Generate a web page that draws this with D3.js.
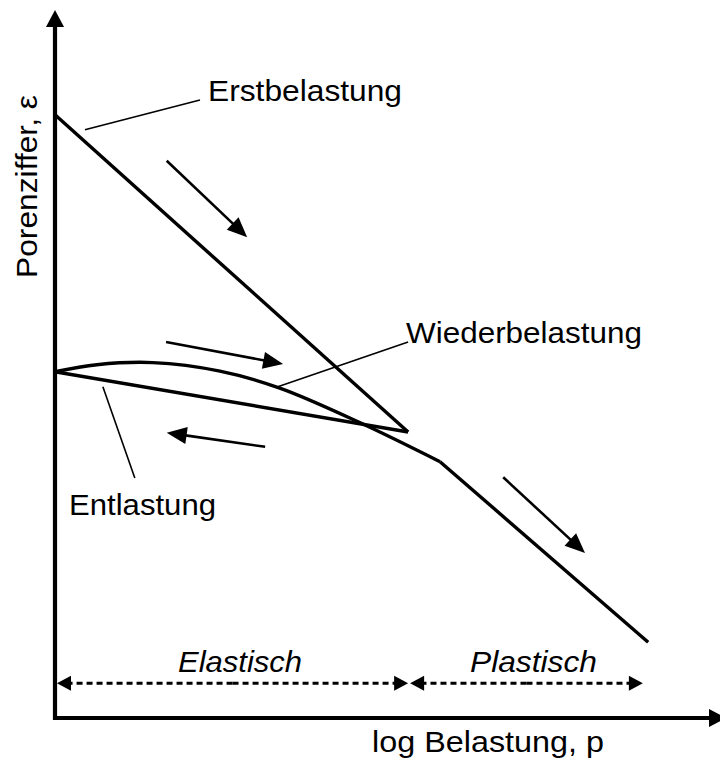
<!DOCTYPE html>
<html>
<head>
  <meta charset="utf-8">
  <script src="https://d3js.org/d3.v7.min.js"></script>
  <style>
    body { margin: 0; background: #fff; }
    text { font-family: "Liberation Sans", Arial, sans-serif; fill: #000; }
  </style>
</head>
<body>
  <svg width="720" height="765"></svg>
  <script>
    // log p (0..10) against void ratio e (0..10)
    var erstLogP = [0, 5.31];
    var erstE = [8.52, 4.04];

    var entlLogP = [5.31, 0];
    var entlE = [4.04, 4.89];

    var wiederLogP = [0, 0.63, 1.47, 2.48, 3.38, 4.59, 5.79];
    var wiederE = [4.89, 4.99, 5.02, 4.90, 4.66, 4.17, 3.62];

    var plastLogP = [5.79, 8.92];
    var plastE = [3.62, 1.07];

    // direction arrows [x1, y1, x2, y2]
    var dirArrows = [
      [1.68, 7.87, 2.89, 6.79],
      [1.67, 5.31, 3.43, 5.00],
      [3.16, 3.83, 1.68, 4.03],
      [6.74, 3.40, 7.97, 2.33]
    ];

    // leader lines for the labels
    var leaders = [
      [0.45, 8.31, 2.18, 8.73],
      [3.35, 4.68, 5.31, 5.31],
      [0.72, 4.68, 1.20, 3.39]
    ];

    // ranges along the bottom
    var rangeNames = ["Elastisch", "Plastisch"];
    var rangeStart = [0.03, 5.34];
    var rangeEnd = [5.31, 8.84];
    var rangeE = 0.49;

    var svg = d3.select("svg");
    var x = d3.scaleLinear().domain([0, 10]).range([55, 720]);
    var y = d3.scaleLinear().domain([0, 10]).range([718, 10]);

    function zip(a, b) { return a.map(function(v, i) { return [v, b[i]]; }); }

    function head(x1, y1, x2, y2, len, wid) {
      var a = Math.atan2(y2 - y1, x2 - x1);
      var bx = x2 - len * Math.cos(a), by = y2 - len * Math.sin(a);
      var nx = -Math.sin(a) * wid / 2, ny = Math.cos(a) * wid / 2;
      return [[x2, y2], [bx + nx, by + ny], [bx - nx, by - ny]];
    }

    function arrow(g, x1, y1, x2, y2, len, wid, sw, dash) {
      var a = Math.atan2(y2 - y1, x2 - x1);
      g.append("line")
        .attr("x1", x1).attr("y1", y1)
        .attr("x2", x2 - (len - 1) * Math.cos(a)).attr("y2", y2 - (len - 1) * Math.sin(a))
        .attr("stroke", "#000").attr("stroke-width", sw)
        .attr("stroke-dasharray", dash || null);
      g.append("polygon")
        .attr("points", head(x1, y1, x2, y2, len, wid).join(" "))
        .attr("fill", "#000");
    }

    var line = d3.line().x(function(d) { return x(d[0]); }).y(function(d) { return y(d[1]); });
    var curve = d3.line().x(function(d) { return x(d[0]); }).y(function(d) { return y(d[1]); })
      .curve(d3.curveCatmullRom.alpha(0.5));

    // axes
    var ax = svg.append("g");
    arrow(ax, x(0), y(0) + 2, x(0), y(10), 17, 18, 4.2);
    arrow(ax, x(0) - 2, y(0), x(10) + 6, y(0), 17, 18, 4.2);

    // curves
    var g = svg.append("g").attr("fill", "none").attr("stroke", "#000")
      .attr("stroke-width", 3.4).attr("stroke-linejoin", "round");
    g.append("path").attr("d", line(zip(erstLogP, erstE)));
    g.append("path").attr("d", line(zip(entlLogP, entlE)));
    g.append("path").attr("d", curve(zip(wiederLogP, wiederE)));
    g.append("path").attr("d", line(zip(plastLogP, plastE)));

    // direction arrows
    var da = svg.append("g");
    dirArrows.forEach(function(d) {
      arrow(da, x(d[0]), y(d[1]), x(d[2]), y(d[3]), 20, 17, 2.6);
    });

    // leader lines
    svg.append("g").selectAll("line").data(leaders).enter().append("line")
      .attr("x1", function(d) { return x(d[0]); })
      .attr("y1", function(d) { return y(d[1]); })
      .attr("x2", function(d) { return x(d[2]); })
      .attr("y2", function(d) { return y(d[3]); })
      .attr("stroke", "#000").attr("stroke-width", 1.6);

    // elastic / plastic ranges
    var rg = svg.append("g");
    rangeNames.forEach(function(name, i) {
      var xa = x(rangeStart[i]), xb = x(rangeEnd[i]), yy = y(rangeE);
      var mid = (xa + xb) / 2;
      arrow(rg, mid, yy, xa, yy, 14, 15, 3, "6,4");
      arrow(rg, mid, yy, xb, yy, 14, 15, 3, "6,4");
    });

    // labels
    var labels = [
      { t: "Erstbelastung", x: 208, y: 101, w: 194 },
      { t: "Wiederbelastung", x: 406, y: 343, w: 236 },
      { t: "Entlastung", x: 69, y: 515, w: 147 },
      { t: "Elastisch", x: 178, y: 672, w: 124, i: true },
      { t: "Plastisch", x: 470, y: 672, w: 127, i: true },
      { t: "log Belastung, p", x: 372, y: 752, w: 232 }
    ];
    svg.append("g").selectAll("text").data(labels).enter().append("text")
      .attr("x", function(d) { return d.x; })
      .attr("y", function(d) { return d.y; })
      .attr("font-size", 30)
      .attr("font-style", function(d) { return d.i ? "italic" : "normal"; })
      .attr("textLength", function(d) { return d.w; })
      .attr("lengthAdjust", "spacingAndGlyphs")
      .text(function(d) { return d.t; });

    svg.append("text")
      .attr("transform", "translate(37,278) rotate(-90)")
      .attr("font-size", 30)
      .attr("textLength", 183)
      .attr("lengthAdjust", "spacingAndGlyphs")
      .text("Porenziffer, ε");
  </script>
</body>
</html>
